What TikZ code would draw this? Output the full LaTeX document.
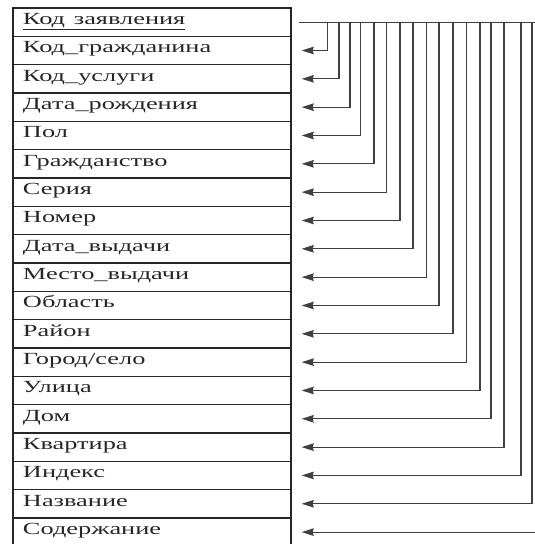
\documentclass[tikz,border=0pt]{standalone}
\usepackage{fontspec}
\usepackage{graphicx}
\setmainfont{Liberation Serif}
\newcommand{\wtext}[1]{\scalebox{1.55}[1]{#1}}
\usetikzlibrary{arrows.meta}
\begin{document}
\begin{tikzpicture}[x=1pt,y=-1pt,
  row/.style={draw=black!85, line width=1.4pt, rectangle, minimum width=278pt, minimum height=28.33pt,
    inner xsep=10pt, inner ysep=0pt, text width=258pt, align=left, text height=11.5pt, text depth=7pt,
    font=\fontsize{17}{19}\selectfont, text=black!85},
  conn/.style={draw=black!75, line width=1.2pt},
  arr/.style={conn, -{Stealth[length=12pt,width=7.5pt,inset=1pt]}}]
\useasboundingbox (0,0) rectangle (535,544);
\foreach \i/\t in {1/{\underline{Код заявления}},2/Код\_гражданина,3/Код\_услуги,4/Дата\_рождения,5/Пол,6/Гражданство,7/Серия,8/Номер,9/Дата\_выдачи,10/Место\_выдачи,11/Область,12/Район,13/{Город/село},14/Улица,15/Дом,16/Квартира,17/Индекс,18/Название,19/Содержание}{
  \node[row] (r\i) at (152,{8+28.33*(\i-0.5)}) {\wtext{\t}};
}
\coordinate (s) at ([xshift=7pt]r1.east);
\coordinate (e) at (535,0 |- s);
\draw[conn] (s) -- (e);
\foreach \i/\x in {2/327.7,3/339,4/350,5/360.7,6/374,7/386.7,8/400,9/413,10/426.7,11/439,12/453,13/466.7,14/480,15/491,16/504,17/521,18/532}{
  \coordinate (v\i) at (\x,0 |- s);
  \draw[arr] (v\i) |- ([xshift=10pt]r\i.east);
}
\coordinate (w19) at (535,0 |- r19.east);
\draw[arr] (w19) -- ([xshift=10pt]r19.east);
\end{tikzpicture}
\end{document}
